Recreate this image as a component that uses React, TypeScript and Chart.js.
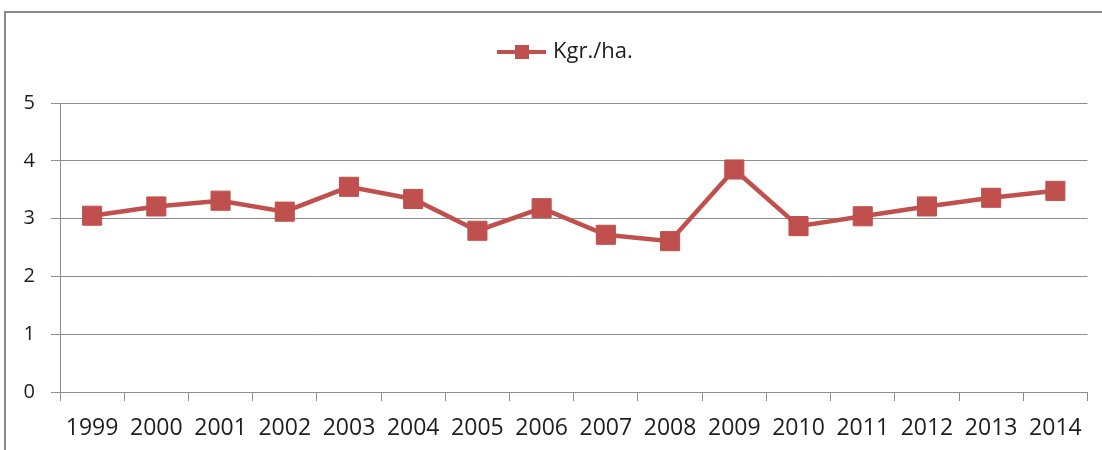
import React, { useEffect, useRef } from "react";
import { Chart, registerables } from "chart.js";

Chart.register(...registerables);

const categories = ["1999", "2000", "2001", "2002", "2003", "2004", "2005", "2006", "2007", "2008", "2009", "2010", "2011", "2012", "2013", "2014"];
const seriesName = "Kgr./ha.";
const seriesValues = [3.05, 3.21, 3.31, 3.12, 3.55, 3.34, 2.79, 3.18, 2.72, 2.61, 3.85, 2.87, 3.04, 3.21, 3.36, 3.48];
const yTicks = [0, 1, 2, 3, 4, 5];

const RED = "#C0504D";
const GRID = "#8c8c8c";
const TEXT = "#1e1e1e";
const FONT = "'Open Sans', 'Liberation Sans', sans-serif";

const legendPlugin = {
  id: "customLegend",
  afterDraw(chart: any) {
    const ctx = chart.ctx;
    const cx = chart.width / 2;
    const y = 52;
    const x0 = cx - 54;
    ctx.save();
    ctx.strokeStyle = RED;
    ctx.lineWidth = 4;
    ctx.beginPath();
    ctx.moveTo(x0, y);
    ctx.lineTo(x0 + 49, y);
    ctx.stroke();
    ctx.fillStyle = RED;
    ctx.fillRect(x0 + 25 - 7, y - 7, 14, 14);
    ctx.fillStyle = TEXT;
    ctx.font = `22px ${FONT}`;
    ctx.textBaseline = "middle";
    ctx.textAlign = "left";
    ctx.fillText(seriesName, x0 + 56, y);
    ctx.restore();
  },
};

export default function App() {
  const ref = useRef<HTMLCanvasElement>(null);
  useEffect(() => {
    if (!ref.current) return;
    const chart = new Chart(ref.current, {
      type: "line",
      data: {
        labels: categories,
        datasets: [
          {
            label: seriesName,
            data: seriesValues,
            borderColor: RED,
            backgroundColor: RED,
            borderWidth: 4.5,
            pointStyle: "rect",
            pointRadius: 13.5,
            pointHoverRadius: 13.5,
            pointBorderWidth: 1,
            pointBorderColor: RED,
            pointBackgroundColor: RED,
            tension: 0,
          },
        ],
      },
      options: {
        animation: false,
        responsive: false,
        maintainAspectRatio: false,
        layout: { padding: { left: 0, right: 12, top: 103, bottom: 0 } },
        plugins: {
          legend: { display: false },
          title: { display: false },
          tooltip: { enabled: false },
        },
        scales: {
          x: {
            offset: true,
            afterFit: (s: any) => {
              s.height = 58;
            },
            grid: {
              offset: true,
              drawOnChartArea: false,
              drawTicks: true,
              tickLength: 9,
              color: GRID,
              lineWidth: 1,
            },
            border: { display: true, color: GRID, width: 1 },
            ticks: {
              color: TEXT,
              font: { family: FONT, size: 23 },
              padding: 14,
              maxRotation: 0,
              autoSkip: false,
            },
          },
          y: {
            min: 0,
            max: 5,
            afterFit: (s: any) => {
              s.width = 60;
            },
            afterBuildTicks: (s: any) => {
              s.ticks = yTicks.map((v) => ({ value: v }));
            },
            grid: {
              color: GRID,
              lineWidth: 1,
              drawTicks: true,
              tickLength: 9,
            },
            border: { display: true, color: GRID, width: 1 },
            ticks: {
              color: TEXT,
              font: { family: FONT, size: 20 },
              padding: 16,
            },
          },
        },
      },
      plugins: [legendPlugin],
    });
    return () => chart.destroy();
  }, []);

  return (
    <div style={{ position: "fixed", left: 0, top: 0, width: 1102, height: 450, background: "#fff", overflow: "hidden" }}>
      <div
        style={{
          position: "absolute",
          left: 4,
          top: 11,
          width: 1120,
          height: 480,
          border: "2px solid #8a8a8a",
          boxSizing: "border-box",
        }}
      />
      <canvas ref={ref} width={1102} height={450} style={{ position: "absolute", left: 0, top: 0, width: 1102, height: 450 }} />
    </div>
  );
}
